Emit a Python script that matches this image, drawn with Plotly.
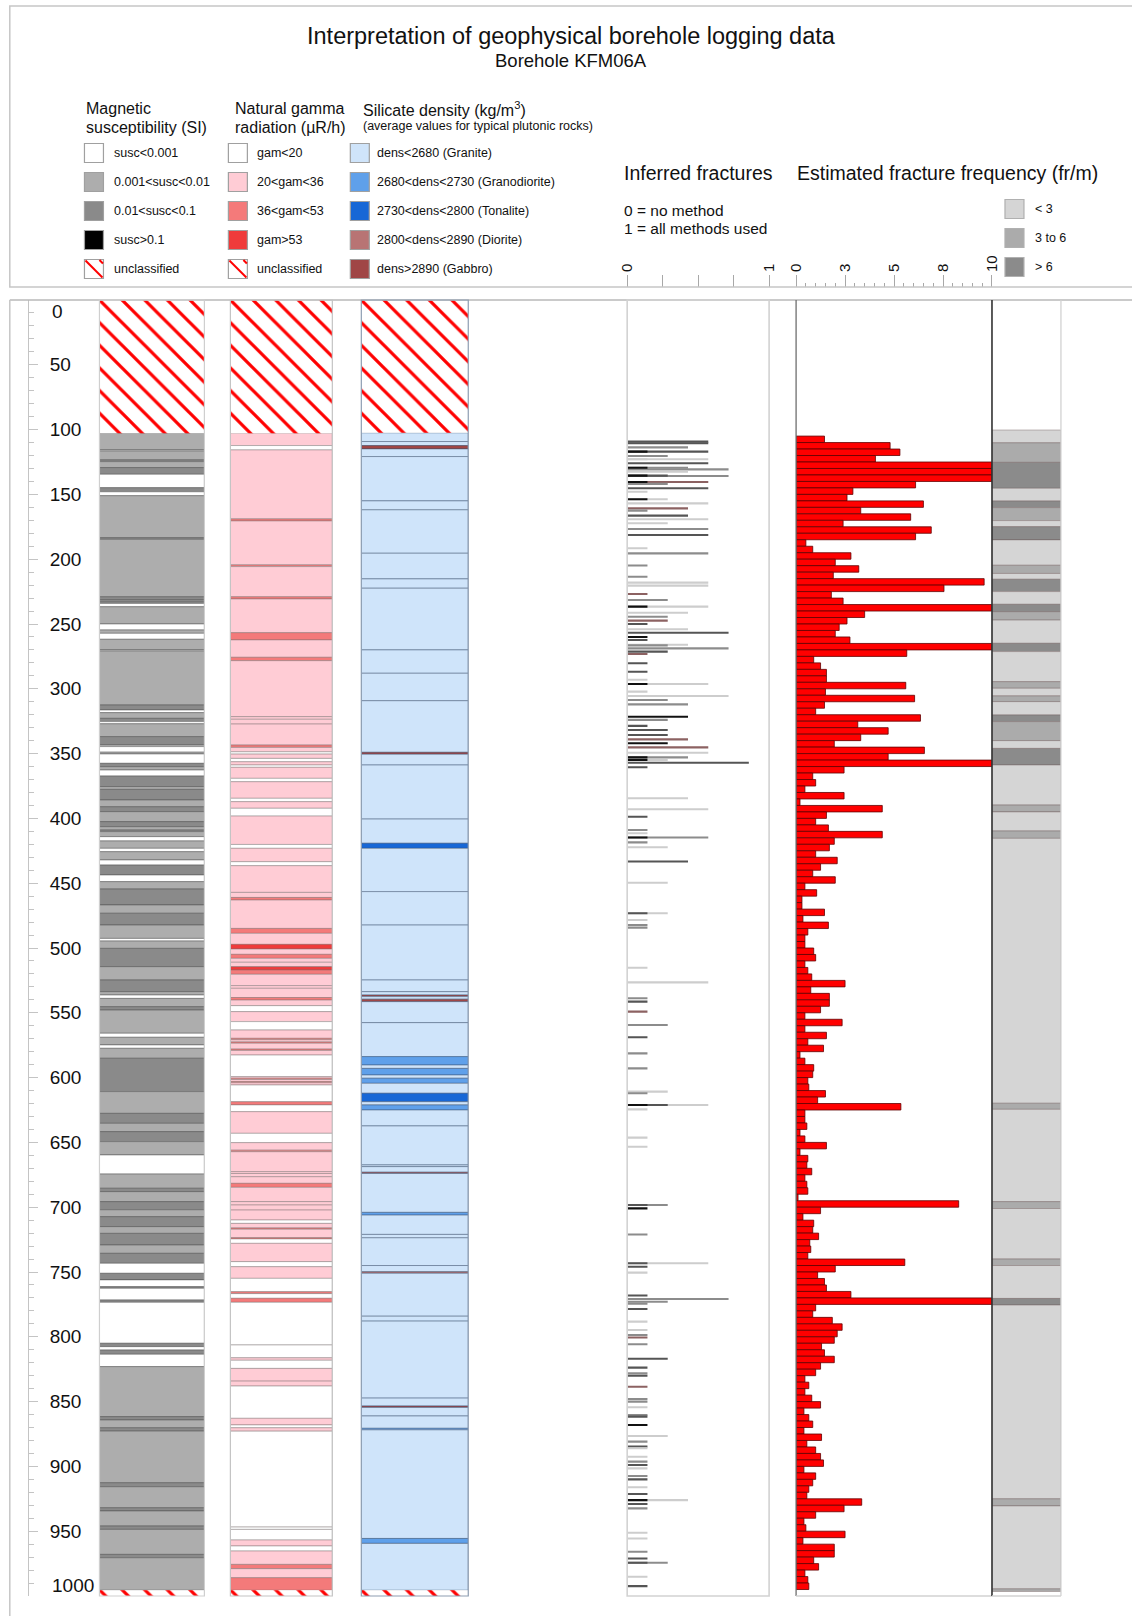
import plotly.graph_objects as go

W, H = 1132, 1616
FONT = "Liberation Sans, Arial, sans-serif"

# ---------------- DATA ----------------
# Magnetic susceptibility: segment top depth (m) and class
# 0 susc<0.001, 1 0.001-0.01, 2 0.01-0.1, 3 >0.1, 9 unclassified
mag_top = [0, 102.8, 115.7, 116.5, 123.4, 124.7, 129.3, 134.5, 144.8, 148, 151, 183.4, 184.7, 229, 231.5,
           232.5, 234.1, 236.7, 250, 254.6, 257.2, 261.8, 270, 270.8, 312.5, 316.4, 318.4, 322.8, 325.3,
           327, 336.9, 343.1, 344.6, 348.9, 350.3, 357.5, 360.1, 362.7, 367.3, 375.5, 377.6, 385.8, 391,
           394.8, 402.5, 406.4, 409, 410.2, 414.1, 417.4, 423.1, 425.7, 432.1, 436, 443.7, 448.8, 454.5,
           466.8, 473.2, 482.3, 492.6, 494.6, 500.3, 514.4, 524.7, 533.7, 536.3, 538.9, 545.3, 547.9,
           565.8, 568.9, 574.8, 577.4, 585.1, 610.8, 627.6, 635.3, 641.7, 649.4, 659.7, 674.4, 685.4, 688,
           695.7, 702, 707.3, 715, 720.2, 729.2, 735.6, 743.3, 751, 756.1, 761.3, 762.6, 771.6, 773.4, 805,
           807.6, 810.2, 813.5, 823, 861.6, 864.2, 870.2, 872.8, 912.6, 915.7, 931.9, 934.4, 946, 948.6,
           967.9, 970.5, 995.5]
mag_class = [9, 1, 0, 1, 2, 1, 2, 0, 2, 0, 1, 2, 1, 2, 1,
             2, 0, 1, 0, 1, 0, 1, 0, 1, 2, 0, 1, 2, 0,
             1, 2, 1, 0, 1, 0, 2, 1, 0, 2, 1, 2, 1, 2,
             1, 2, 1, 2, 1, 0, 1, 0, 1, 0, 2, 0, 1, 2,
             1, 2, 1, 0, 1, 2, 1, 2, 1, 0, 1, 2, 1,
             0, 1, 0, 1, 2, 1, 2, 1, 2, 1, 0, 1, 2, 1,
             2, 1, 2, 1, 2, 1, 2, 0, 2, 0, 2, 0, 2, 0, 2,
             0, 2, 0, 1, 2, 1, 2, 1, 2, 1, 2, 1, 2, 1,
             2, 1, 9]

# Natural gamma radiation: 0 gam<20, 1 20-36, 2 36-53, 3 >53, 9 unclassified
gam_top = [0, 102.8, 112.3, 115.7, 168.9, 170.5, 204.4, 205.7, 229, 230.7, 256.7, 262.3, 275.7, 278.3,
           321.5, 323.5, 327.2, 343.4, 345.2, 348.6, 350.4, 353.7, 356.3, 358.8, 360.6, 369.1, 371.7,
           384.5, 387.1, 392.2, 398.2, 420.1, 423.1, 433.4, 436.5, 457.1, 461, 463, 484.9, 488.7, 497.2,
           500.8, 504.9, 508, 511, 514.4, 517, 520.3, 529, 531.1, 538.2, 540.2, 544.5, 549.1, 556.8,
           563.3, 569.7, 570.8, 572.5, 573.5, 578, 579, 582.6, 599.3, 600.5, 601.5, 603, 604, 605.7,
           618.6, 621.1, 626.3, 643, 650.2, 656, 657.2, 672.6, 674, 676.5, 681.6, 684.7, 695.7, 698.3,
           702.2, 709.9, 712.5, 716, 717, 723.5, 724.5, 727.9, 742, 745.9, 754.9, 765.2, 766.7, 770.3,
           773.4, 806.3, 816.2, 818.1, 824.4, 834.2, 838, 862.9, 868, 870.2, 872.8, 946.8, 948.6, 956.8,
           961.4, 965.3, 975.6, 978.9, 985.9, 995.5]
gam_class = [9, 1, 0, 1, 2, 1, 2, 1, 2, 1, 2, 1, 2, 1,
             1, 1, 1, 2, 1, 0, 1, 0, 1, 0, 1, 0, 1,
             0, 1, 0, 1, 0, 1, 0, 1, 1, 2, 1, 2, 1, 3,
             1, 2, 1, 1, 3, 2, 1, 1, 1, 2, 1, 0, 1, 0,
             1, 2, 1, 2, 1, 2, 1, 0, 1, 2, 1, 2, 1, 0,
             2, 0, 1, 0, 1, 2, 1, 1, 1, 1, 2, 1, 1, 1,
             1, 0, 1, 2, 1, 2, 0, 1, 0, 1, 0, 2, 0, 2,
             0, 0, 1, 0, 1, 1, 0, 1, 0, 1, 0, 0, 0, 1,
             0, 1, 2, 1, 2, 9]

# Silicate density: 0 granite, 1 granodiorite, 2 tonalite, 3 diorite, 4 gabbro, 9 unclassified
den_top = [0, 102.5, 109.2, 112.3, 114.9, 120.8, 155, 161.9, 195.4, 215.2, 222.4, 270, 288, 309.2, 349,
           350.5, 358.8, 400.5, 419.2, 423.1, 456.5, 482.3, 524.7, 533.7, 536.3, 537.5, 539.5, 541.4,
           557.6, 583.8, 590.3, 592.9, 598, 600.5, 604.4, 612.1, 618.6, 621.1, 625, 637.3, 667.4, 668.7,
           673, 674, 704, 706.1, 721, 723.6, 745, 749.8, 751, 784.1, 787.9, 847.3, 853.4, 854.5, 861.1,
           870.6, 871.8, 955.6, 959.4, 995.5]
den_class = [9, 0, 0, 4, 0, 0, 0, 0, 0, 0, 0, 0, 0, 0, 4,
             0, 0, 0, 2, 0, 0, 0, 0, 0, 4, 0, 4, 0,
             0, 1, 0, 1, 0, 1, 0, 2, 0, 1, 0, 0, 0, 0,
             4, 0, 1, 0, 0, 0, 0, 3, 0, 0, 0, 0, 4, 0, 0,
             1, 0, 1, 0, 9]

# Inferred fractures: depth (m), number of methods out of 7, shade (0 black,1 dark,2 grey,3 light,4 brown)
frac_depth = [109.3, 110.6, 113.7, 117.0, 117.0, 120.4, 122.9, 122.9, 126.0, 129.4, 129.4, 130.7, 132.5,
              135.5, 135.5, 135.8, 140.4, 140.4, 141.9, 145.3, 147.9, 153.8, 153.8, 156.9, 160.8, 162.5,
              166.4, 169.2, 172.3, 176.7, 181.3, 191.6, 195.5, 204.9, 213.5, 218.1, 220.4, 226.8, 231.5,
              236.6, 236.6, 241.3, 244.4, 247.4, 250, 254, 256.7, 260, 262.4, 266, 266.5, 268.8, 271.3,
              273.2, 280.3, 286.8, 293, 296.3, 296.3, 302.2, 305.5, 308.6, 312, 321.5, 324, 328.6, 331.8,
              335.6, 339, 342, 345.2, 349.3, 352.9, 352.9, 355, 355, 357, 360.6, 384.5, 393, 398.7, 409,
              411.5, 414.8, 414.8, 418.5, 422.3, 433.3, 449.6, 473.2, 473.2, 478.4, 482.3, 484.3, 515.2,
              526.5, 538.8, 541.4, 549.1, 559.4, 568.9, 581.3, 592.9, 610.8, 612.1, 621.1, 621.1, 621.1,
              624.5, 646.3, 653.3, 698.3, 698.3, 700.9, 721, 743.3, 743.3, 746, 750.5, 768.2, 770.8, 772.9,
              774.4, 778.6, 788.3, 794.7, 798.6, 800.6, 805.8, 816.9, 823.8, 828.2, 830, 838.5, 848, 850,
              854.4, 860.3, 861.6, 868, 876.5, 880.9, 884.7, 886, 892.5, 896.3, 898.9, 901.5, 907.4, 910,
              916.1, 921.3, 926, 926, 929, 932.4, 951.2, 955.6, 965.9, 971, 974.4, 974.4, 985.2, 992.4]
frac_k = [4, 4, 3, 1, 4, 2, 1, 4, 4, 1, 3, 5, 3,
          1, 2, 5, 1, 4, 2, 4, 1, 1, 2, 4, 3, 1,
          3, 4, 2, 4, 4, 1, 4, 1, 1, 4, 4, 1, 2,
          1, 4, 3, 2, 2, 1, 3, 5, 1, 1, 3, 2, 5, 2,
          1, 1, 1, 1, 1, 4, 1, 5, 2, 3, 3, 2, 1, 2,
          2, 3, 2, 4, 4, 1, 3, 1, 2, 6, 1, 3, 4, 1, 1,
          1, 1, 4, 1, 2, 3, 2, 1, 2, 1, 1, 1, 1,
          4, 1, 1, 1, 2, 1, 1, 1, 2, 1, 1, 2, 4,
          1, 1, 1, 1, 2, 1, 1, 1, 4, 1, 1, 1, 5, 2,
          1, 1, 1, 1, 1, 1, 1, 2, 1, 1, 1, 1, 1, 1,
          1, 1, 1, 1, 2, 1, 1, 1, 1, 1, 1, 1, 1, 1,
          1, 1, 1, 3, 1, 1, 1, 1, 1, 1, 1, 2, 1, 1]
frac_shade = [1, 1, 2, 0, 1, 2, 3, 3, 1, 0, 2, 2, 3,
              0, 1, 2, 0, 4, 2, 1, 3, 0, 3, 3, 4, 2,
              1, 3, 3, 2, 1, 3, 2, 2, 2, 3, 3, 4, 2,
              0, 3, 3, 2, 4, 1, 3, 1, 0, 1, 3, 2, 2, 1,
              4, 1, 1, 3, 0, 3, 3, 3, 2, 2, 0, 2, 1, 1,
              1, 4, 0, 4, 3, 0, 2, 0, 3, 1, 1, 3, 3, 1, 2,
              3, 0, 2, 2, 3, 1, 3, 1, 3, 3, 2, 2, 3,
              3, 2, 1, 4, 2, 1, 2, 2, 3, 2, 0, 1, 3,
              3, 3, 3, 1, 2, 0, 2, 1, 3, 1, 3, 1, 2, 2,
              2, 1, 3, 3, 2, 4, 2, 1, 1, 2, 1, 4, 2, 2,
              3, 2, 1, 0, 3, 2, 1, 3, 3, 2, 1, 3, 2, 1,
              3, 1, 0, 3, 1, 2, 3, 3, 2, 1, 1, 2, 3, 1]

# Estimated fracture frequency (fr/m) in 5 m bins starting at 105 m
freq_first_bin, freq_bin = 105, 5
freq_val = [1.45, 4.8, 5.3, 4.05, 10, 10, 10, 6.1, 2.9, 2.6,
            6.5, 3.3, 5.85, 2.4, 6.9, 6.1, 0.5, 0.85, 2.8, 2.0,
            3.2, 1.9, 9.6, 7.55, 1.8, 2.4, 10, 3.5, 2.6, 2.2,
            2.0, 2.75, 10, 5.65, 0.9, 1.25, 1.55, 1.55, 5.6, 1.5,
            6.05, 1.45, 1.0, 6.35, 3.15, 4.7, 3.3, 1.95, 6.55, 4.7,
            10, 2.45, 0.85, 1.0, 0.45, 2.45, 0.2, 4.4, 1.55, 1.0,
            1.65, 4.4, 1.95, 1.7, 1.0, 2.1, 1.25, 0.85, 2.0, 0.45,
            1.05, 0.3, 0.3, 1.45, 0.35, 1.65, 0.6, 0.45, 0.45, 0.9,
            1.0, 0.45, 0.6, 0.8, 2.5, 0.75, 1.7, 1.7, 1.25, 0.45,
            2.35, 0.45, 1.55, 0.6, 1.4, 0.2, 0.45, 0.9, 0.85, 0.6,
            0.65, 1.5, 1.1, 5.35, 0.45, 0.45, 0.55, 0.2, 0.45, 1.55,
            0.2, 0.6, 0.55, 0.8, 0.45, 0.55, 0.6, 0.1, 8.3, 1.25,
            0.35, 0.9, 0.85, 1.15, 0.7, 0.75, 0.6, 5.55, 2.0, 1.1,
            1.45, 1.55, 2.8, 10, 1.0, 0.85, 1.85, 2.35, 2.1, 1.95,
            1.3, 1.45, 1.95, 1.25, 1.0, 0.45, 0.65, 0.45, 0.8, 1.25,
            0.4, 0.65, 0.85, 0.4, 1.3, 0.55, 1.0, 1.25, 1.4, 0.4,
            1.0, 0.85, 0.65, 0.55, 3.35, 2.45, 1.0, 0.4, 0.5, 2.5,
            0.35, 1.95, 1.95, 0.9, 1.15, 0.45, 0.6, 0.65]

# Fracture frequency class column: 0 <3, 1 3 to 6, 2 >6
fcls_top = [100.3, 110.2, 125.3, 145.3, 155.1, 160.2, 170.2, 174.9, 185.1, 204.7, 211, 215.5, 225, 234.8,
            240.5, 247, 264.9, 271.3, 294.5, 299.6, 305.5, 309.9, 320.2, 325.3, 340, 346, 358.8, 389.7,
            395, 409.7, 415.4, 619.8, 624.5, 695.7, 701, 740, 745, 770.4, 775.5, 925, 930.5, 994.5]
fcls_class = [0, 1, 2, 0, 2, 1, 0, 2, 0, 1, 0, 2, 0, 2,
              1, 0, 2, 0, 1, 0, 1, 0, 2, 1, 0, 2, 0, 1,
              0, 1, 0, 1, 0, 1, 0, 1, 0, 2, 0, 1, 0, 1]
fcls_end = 996.5

depth_ticks = [0, 50, 100, 150, 200, 250, 300, 350, 400, 450, 500, 550, 600, 650, 700, 750, 800, 850,
               900, 950, 1000]

# ---------------- STYLE ----------------
MAG_COL = {0: "#ffffff", 1: "#adadad", 2: "#8a8a8a", 3: "#000000"}
GAM_COL = {0: "#ffffff", 1: "#ffccd5", 2: "#f47a7a", 3: "#ef3b3b"}
DEN_COL = {0: "#cfe4fa", 1: "#5fa0ea", 2: "#1767d6", 3: "#b87474", 4: "#a04646"}
FCLS_COL = {0: "#d5d5d5", 1: "#ababab", 2: "#8b8b8b"}
FRAC_COL = {0: "#111111", 1: "#555555", 2: "#8c8c8c", 3: "#cdcdcd", 4: "#8c6262"}

# horizontal placement correction (the page is shown slightly narrowed horizontally)
X_OFF, X_SCALE = 8.5, 0.9855


def px(v):
    return max(0.0, (v - X_OFF) / X_SCALE / W)


def py(v):
    return 1 - v / H


Y_TOP, Y_BOT = 300, 1596
ydom = [py(Y_BOT), py(Y_TOP)]

fig = go.Figure()

# empty trace so the depth axis owns its own subplot (x / y)
fig.add_trace(go.Scatter(x=[None], y=[None], xaxis="x", yaxis="y", mode="markers",
                         showlegend=False, hoverinfo="skip"))


def add_segments(tops, classes, end, colors, xaxis, line_color):
    bottoms = tops[1:] + [end]
    norm = [(t, b, c) for t, b, c in zip(tops, bottoms, classes) if c != 9]
    unc = [(t, b) for t, b, c in zip(tops, bottoms, classes) if c == 9]
    fig.add_trace(go.Bar(
        orientation="h", y=[(t + b) / 2 for t, b, c in norm], x=[1] * len(norm), base=0,
        width=[b - t for t, b, c in norm],
        marker=dict(color=[colors[c] for t, b, c in norm], line=dict(color=line_color, width=0.8)),
        xaxis=xaxis, yaxis="y", showlegend=False, hoverinfo="skip"))
    if unc:
        fig.add_trace(go.Bar(
            orientation="h", y=[(t + b) / 2 for t, b in unc], x=[1] * len(unc), base=0,
            width=[b - t for t, b in unc],
            marker=dict(color="white", line=dict(width=0),
                        pattern=dict(shape="\\", fgcolor="#ff0000", bgcolor="white", size=16,
                                     solidity=0.2, fillmode="overlay", fgopacity=1)),
            xaxis=xaxis, yaxis="y", showlegend=False, hoverinfo="skip"))


add_segments(mag_top, mag_class, 1000, MAG_COL, "x2", "rgba(70,70,70,0.55)")
add_segments(gam_top, gam_class, 1000, GAM_COL, "x3", "rgba(120,110,110,0.55)")
add_segments(den_top, den_class, 1000, DEN_COL, "x4", "rgba(60,80,110,0.6)")
add_segments(fcls_top, fcls_class, fcls_end, FCLS_COL, "x7", "rgba(110,90,90,0.5)")

# inferred fractures (draw long bars first so short dark ones sit on top)
order = sorted(range(len(frac_depth)), key=lambda i: -frac_k[i])
fig.add_trace(go.Bar(
    orientation="h", y=[frac_depth[i] for i in order], x=[frac_k[i] / 7 for i in order], base=0,
    width=1.6, marker=dict(color=[FRAC_COL[frac_shade[i]] for i in order], line=dict(width=0)),
    xaxis="x5", yaxis="y", showlegend=False, hoverinfo="skip"))

# fracture frequency
freq_center = [freq_first_bin + freq_bin * i + freq_bin / 2 for i in range(len(freq_val))]
fig.add_trace(go.Bar(
    orientation="h", y=freq_center, x=freq_val, base=0, width=freq_bin,
    marker=dict(color="#ff0000", line=dict(color="#600000", width=0.8)),
    xaxis="x6", yaxis="y", showlegend=False, hoverinfo="skip"))

hidden = dict(visible=False, range=[0, 1], fixedrange=True)
fig.update_layout(
    width=W, height=H, autosize=False, margin=dict(l=0, r=0, t=0, b=0),
    paper_bgcolor="white", plot_bgcolor="rgba(0,0,0,0)", barmode="overlay",
    font=dict(family=FONT, color="#111"),
    xaxis=dict(domain=[px(29), px(95)], anchor="y", **hidden),
    yaxis=dict(domain=ydom, range=[1000, 0], anchor="x", showline=True, linecolor="#c4c4c4",
               linewidth=1, ticks="inside", ticklen=9, tickcolor="#c4c4c4", tickwidth=1,
               tickvals=depth_ticks,
               ticktext=["" if v in (0, 1000) else str(v) for v in depth_ticks],
               ticklabelposition="inside", ticklabelstandoff=12,
               tickfont=dict(size=19, color="#111"), showgrid=False, zeroline=False,
               minor=dict(dtick=10, tick0=0, ticks="inside", ticklen=5, tickcolor="#c4c4c4",
                          showgrid=False),
               fixedrange=True),
    xaxis2=dict(domain=[px(99), px(204)], anchor="y", **hidden),
    xaxis3=dict(domain=[px(230), px(332)], anchor="y", **hidden),
    xaxis4=dict(domain=[px(361), px(468)], anchor="y", **hidden),
    xaxis5=dict(domain=[px(627), px(769)], range=[0, 1], anchor="free", position=py(287), side="top",
                ticks="outside", ticklen=12, tickcolor="#a8a8a8", tickwidth=1,
                tickvals=[0, 0.25, 0.5, 0.75, 1], ticktext=["0", " ", " ", " ", "1"], tickangle=-90,
                tickfont=dict(size=15, color="#111"), showline=False, showgrid=False,
                zeroline=False, fixedrange=True),
    xaxis6=dict(domain=[px(796), px(992)], range=[0, 10], anchor="free", position=py(287), side="top",
                ticks="outside", ticklen=12, tickcolor="#a8a8a8", tickwidth=1,
                tickvals=[0, 2.5, 5, 7.5, 10], ticktext=["0", "3", "5", "8", "10"], tickangle=-90,
                tickfont=dict(size=15, color="#111"), showline=False, showgrid=False,
                zeroline=False, fixedrange=True,
                minor=dict(dtick=0.5, tick0=0, ticks="outside", ticklen=4, tickcolor="#a8a8a8")),
    xaxis7=dict(domain=[px(992), px(1061)], anchor="y", **hidden),
)

shapes = []


def rect(x0, y0, x1, y1, line="#c8c8c8", fill=None, width=1.2):
    shapes.append(dict(type="rect", xref="paper", yref="paper", x0=px(x0), x1=px(x1), y0=py(y1),
                       y1=py(y0), line=dict(color=line, width=width),
                       fillcolor=fill if fill else "rgba(0,0,0,0)", layer="above"))


def line(x0, y0, x1, y1, color="#c8c8c8", width=1.2):
    shapes.append(dict(type="line", xref="paper", yref="paper", x0=px(x0), x1=px(x1), y0=py(y0),
                       y1=py(y1), line=dict(color=color, width=width), layer="above"))


# frames
rect(9.3, 6, 1140, 287, line="#c6c6c6", width=1.5)
line(9.3, 300, 1140, 300, color="#b8b8b8", width=1.5)
line(9.3, 300, 9.3, 1616, color="#c6c6c6", width=1.5)
rect(99, 300, 204, 1596, line="#cfcfcf", width=1.2)
rect(230, 300, 332, 1596, line="#c4c4c4", width=1.2)
rect(361, 300, 468, 1596, line="#8d9db2", width=1.2)
rect(627, 300, 769, 1596, line="#d2d2d2", width=1.6)
line(796, 300, 796, 1596, color="#6e6e6e", width=1.3)
line(796, 1596, 992, 1596, color="#d2d2d2", width=1.3)
line(992, 300, 992, 1596, color="#333333", width=1.6)
line(1061, 300, 1061, 1596, color="#d2d2d2", width=1.3)
line(992, 1596, 1061, 1596, color="#d2d2d2", width=1.3)

annotations = []


def text(x, y, s, size, anchor="left", color="#111"):
    annotations.append(dict(x=px(x), y=py(y), xref="paper", yref="paper", text=s, showarrow=False,
                            xanchor=anchor, yanchor="middle", font=dict(size=size, color=color,
                                                                        family=FONT)))


# title
text(571, 36, "Interpretation of geophysical borehole logging data", 23.5, anchor="center")
text(571, 61, "Borehole KFM06A", 18.5, anchor="center")

# legend headers
text(84, 108, "Magnetic", 16)
text(84, 127, "susceptibility (SI)", 16)
text(233, 108, "Natural gamma", 16)
text(233, 127, "radiation (µR/h)", 16)
text(361, 109, "Silicate density (kg/m<sup>3</sup>)", 16)
text(361, 126, "(average values for typical plutonic rocks)", 12.5)

rows = [153, 182, 211, 240, 269]
mag_labels = ["susc&lt;0.001", "0.001&lt;susc&lt;0.01", "0.01&lt;susc&lt;0.1", "susc&gt;0.1", "unclassified"]
gam_labels = ["gam&lt;20", "20&lt;gam&lt;36", "36&lt;gam&lt;53", "gam&gt;53", "unclassified"]
den_labels = ["dens&lt;2680 (Granite)", "2680&lt;dens&lt;2730 (Granodiorite)",
              "2730&lt;dens&lt;2800 (Tonalite)", "2800&lt;dens&lt;2890 (Diorite)",
              "dens&gt;2890 (Gabbro)"]


def swatch(x, yc, color, hatch=False, border="#a0a0a0"):
    s = 19
    rect(x, yc - s / 2, x + s, yc + s / 2, line=border, fill=color, width=1.2)
    if hatch:
        line(x + 1, yc - s / 2 + 1, x + s - 1, yc + s / 2 - 1, color="#ff0000", width=2)
        line(x + s - 4, yc - s / 2 + 0.5, x + s - 0.5, yc - s / 2 + 4, color="#ff0000", width=2)


for i, yc in enumerate(rows):
    if i < 4:
        swatch(84, yc, MAG_COL[i])
        swatch(228, yc, GAM_COL[i])
    else:
        swatch(84, yc, "#ffffff", hatch=True)
        swatch(228, yc, "#ffffff", hatch=True)
    swatch(350, yc, DEN_COL[i])
    text(112, yc, mag_labels[i], 12.5)
    text(255, yc, gam_labels[i], 12.5)
    text(375, yc, den_labels[i], 12.5)

# right header
text(622, 173, "Inferred fractures", 19.5)
text(795, 173, "Estimated fracture frequency (fr/m)", 19.5)
text(622, 211, "0 = no method", 15.5)
text(622, 229, "1 = all methods used", 15.5)
for yc, cls, lab in [(209, 0, "&lt; 3"), (238, 1, "3 to 6"), (267, 2, "&gt; 6")]:
    swatch(1005, yc, FCLS_COL[cls], border="#b0b0b0")
    text(1033, yc, lab, 12.5)

# depth end labels (shifted inward like the original)
annotations.append(dict(x=px(50), y=0, xref="paper", yref="y", text="0", showarrow=False,
                        xanchor="left", yanchor="middle", yshift=-12,
                        font=dict(size=19, color="#111", family=FONT)))
annotations.append(dict(x=px(50), y=1000, xref="paper", yref="y", text="1000", showarrow=False,
                        xanchor="left", yanchor="middle", yshift=11,
                        font=dict(size=19, color="#111", family=FONT)))

fig.update_layout(shapes=shapes, annotations=annotations)
fig.write_html("out.html", config={"displayModeBar": False, "responsive": False},
               post_script="document.body.style.margin='0';document.body.style.overflow='hidden';")
